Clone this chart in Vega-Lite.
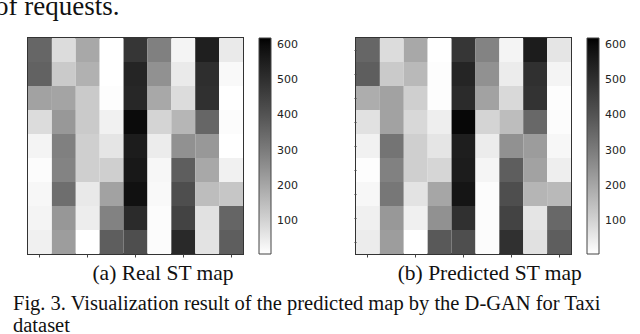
{
  "$schema": "https://vega.github.io/schema/vega-lite/v6.json",
  "background": "white",
  "padding": {"left": -5, "top": -7, "right": 0, "bottom": 0},
  "title": {"text": "of requests.", "orient": "top", "anchor": "start", "frame": "group", "dx": -33, "offset": 16, "font": "Liberation Serif", "fontSize": 27, "fontWeight": "normal", "color": "#111"},
  "datasets": {
    "real": [
      {"r":0,"c":0,"v":355},{"r":0,"c":1,"v":80},{"r":0,"c":2,"v":196},{"r":0,"c":3,"v":5},{"r":0,"c":4,"v":481},{"r":0,"c":5,"v":292},{"r":0,"c":6,"v":29},{"r":0,"c":7,"v":549},{"r":0,"c":8,"v":51},
      {"r":1,"c":0,"v":365},{"r":1,"c":1,"v":119},{"r":1,"c":2,"v":177},{"r":1,"c":3,"v":5},{"r":1,"c":4,"v":532},{"r":1,"c":5,"v":251},{"r":1,"c":6,"v":51},{"r":1,"c":7,"v":505},{"r":1,"c":8,"v":17},
      {"r":2,"c":0,"v":210},{"r":2,"c":1,"v":206},{"r":2,"c":2,"v":119},{"r":2,"c":3,"v":10},{"r":2,"c":4,"v":524},{"r":2,"c":5,"v":196},{"r":2,"c":6,"v":80},{"r":2,"c":7,"v":498},{"r":2,"c":8,"v":5},
      {"r":3,"c":0,"v":80},{"r":3,"c":1,"v":235},{"r":3,"c":2,"v":119},{"r":3,"c":3,"v":34},{"r":3,"c":4,"v":602},{"r":3,"c":5,"v":99},{"r":3,"c":6,"v":164},{"r":3,"c":7,"v":355},{"r":3,"c":8,"v":12},
      {"r":4,"c":0,"v":29},{"r":4,"c":1,"v":292},{"r":4,"c":2,"v":109},{"r":4,"c":3,"v":61},{"r":4,"c":4,"v":558},{"r":4,"c":5,"v":46},{"r":4,"c":6,"v":251},{"r":4,"c":7,"v":235},{"r":4,"c":8,"v":5},
      {"r":5,"c":0,"v":12},{"r":5,"c":1,"v":283},{"r":5,"c":2,"v":109},{"r":5,"c":3,"v":109},{"r":5,"c":4,"v":570},{"r":5,"c":5,"v":22},{"r":5,"c":6,"v":375},{"r":5,"c":7,"v":196},{"r":5,"c":8,"v":34},
      {"r":6,"c":0,"v":22},{"r":6,"c":1,"v":334},{"r":6,"c":2,"v":53},{"r":6,"c":3,"v":210},{"r":6,"c":4,"v":590},{"r":6,"c":5,"v":17},{"r":6,"c":6,"v":416},{"r":6,"c":7,"v":148},{"r":6,"c":8,"v":128},
      {"r":7,"c":0,"v":29},{"r":7,"c":1,"v":237},{"r":7,"c":2,"v":44},{"r":7,"c":3,"v":287},{"r":7,"c":4,"v":512},{"r":7,"c":5,"v":12},{"r":7,"c":6,"v":447},{"r":7,"c":7,"v":70},{"r":7,"c":8,"v":358},
      {"r":8,"c":0,"v":36},{"r":8,"c":1,"v":222},{"r":8,"c":2,"v":5},{"r":8,"c":3,"v":375},{"r":8,"c":4,"v":416},{"r":8,"c":5,"v":12},{"r":8,"c":6,"v":519},{"r":8,"c":7,"v":65},{"r":8,"c":8,"v":375}
    ],
    "pred": [
      {"r":0,"c":0,"v":355},{"r":0,"c":1,"v":80},{"r":0,"c":2,"v":196},{"r":0,"c":3,"v":5},{"r":0,"c":4,"v":481},{"r":0,"c":5,"v":283},{"r":0,"c":6,"v":29},{"r":0,"c":7,"v":558},{"r":0,"c":8,"v":61},
      {"r":1,"c":0,"v":375},{"r":1,"c":1,"v":119},{"r":1,"c":2,"v":157},{"r":1,"c":3,"v":10},{"r":1,"c":4,"v":532},{"r":1,"c":5,"v":251},{"r":1,"c":6,"v":46},{"r":1,"c":7,"v":498},{"r":1,"c":8,"v":29},
      {"r":2,"c":0,"v":186},{"r":2,"c":1,"v":210},{"r":2,"c":2,"v":109},{"r":2,"c":3,"v":10},{"r":2,"c":4,"v":512},{"r":2,"c":5,"v":210},{"r":2,"c":6,"v":87},{"r":2,"c":7,"v":491},{"r":2,"c":8,"v":10},
      {"r":3,"c":0,"v":70},{"r":3,"c":1,"v":210},{"r":3,"c":2,"v":90},{"r":3,"c":3,"v":41},{"r":3,"c":4,"v":609},{"r":3,"c":5,"v":99},{"r":3,"c":6,"v":148},{"r":3,"c":7,"v":350},{"r":3,"c":8,"v":12},
      {"r":4,"c":0,"v":34},{"r":4,"c":1,"v":321},{"r":4,"c":2,"v":109},{"r":4,"c":3,"v":61},{"r":4,"c":4,"v":553},{"r":4,"c":5,"v":46},{"r":4,"c":6,"v":251},{"r":4,"c":7,"v":225},{"r":4,"c":8,"v":22},
      {"r":5,"c":0,"v":10},{"r":5,"c":1,"v":288},{"r":5,"c":2,"v":109},{"r":5,"c":3,"v":94},{"r":5,"c":4,"v":558},{"r":5,"c":5,"v":27},{"r":5,"c":6,"v":375},{"r":5,"c":7,"v":210},{"r":5,"c":8,"v":41},
      {"r":6,"c":0,"v":22},{"r":6,"c":1,"v":314},{"r":6,"c":2,"v":65},{"r":6,"c":3,"v":201},{"r":6,"c":4,"v":580},{"r":6,"c":5,"v":12},{"r":6,"c":6,"v":416},{"r":6,"c":7,"v":167},{"r":6,"c":8,"v":157},
      {"r":7,"c":0,"v":36},{"r":7,"c":1,"v":235},{"r":7,"c":2,"v":36},{"r":7,"c":3,"v":251},{"r":7,"c":4,"v":498},{"r":7,"c":5,"v":12},{"r":7,"c":6,"v":447},{"r":7,"c":7,"v":61},{"r":7,"c":8,"v":350},
      {"r":8,"c":0,"v":46},{"r":8,"c":1,"v":222},{"r":8,"c":2,"v":5},{"r":8,"c":3,"v":389},{"r":8,"c":4,"v":416},{"r":8,"c":5,"v":12},{"r":8,"c":6,"v":498},{"r":8,"c":7,"v":70},{"r":8,"c":8,"v":375}
    ]
  },
  "vconcat": [
    {
      "title": {"text": ["Fig. 3. Visualization result of the predicted map by the D-GAN for Taxi", "dataset"], "orient": "bottom", "anchor": "start", "frame": "group", "dx": -15, "offset": 9, "font": "Liberation Serif", "fontSize": 20.5, "lineHeight": 21.5, "fontWeight": "normal", "color": "#111"},
      "spacing": 113,
      "bounds": "flush",
      "resolve": {"scale": {"color": "independent"}, "legend": {"color": "independent"}},
      "hconcat": [
        {
          "data": {"name": "real"},
          "width": 215,
          "height": 216,
          "title": {"text": "(a) Real ST map", "orient": "bottom", "anchor": "middle", "frame": "bounds", "offset": 5, "font": "Liberation Serif", "fontSize": 21.5, "fontWeight": "normal", "color": "#111"},
          "mark": {"type": "rect"},
          "encoding": {
            "x": {"field": "c", "type": "ordinal", "scale": {"paddingInner": 0, "paddingOuter": 0}, "axis": {"values": [0, 2, 4, 6, 8], "labels": false, "domain": false, "ticks": true, "tickSize": 3, "tickColor": "#444", "title": null}},
            "y": {"field": "r", "type": "ordinal", "scale": {"paddingInner": 0, "paddingOuter": 0}, "axis": null},
            "color": {"field": "v", "type": "quantitative", "scale": {"domain": [5, 621], "range": ["#ffffff", "#000000"]},
              "legend": {"title": null, "values": [100, 200, 300, 400, 500, 600], "gradientLength": 216, "gradientThickness": 12, "gradientStrokeColor": "#444", "gradientStrokeWidth": 1, "labelFont": "DejaVu Sans", "labelFontSize": 11, "labelColor": "#222", "labelOffset": 6, "offset": 16, "padding": 0}}
          }
        },
        {
          "data": {"name": "pred"},
          "width": 215,
          "height": 216,
          "title": {"text": "(b) Predicted ST map", "orient": "bottom", "anchor": "middle", "frame": "bounds", "offset": 5, "font": "Liberation Serif", "fontSize": 21.5, "fontWeight": "normal", "color": "#111"},
          "mark": {"type": "rect"},
          "encoding": {
            "x": {"field": "c", "type": "ordinal", "scale": {"paddingInner": 0, "paddingOuter": 0}, "axis": {"values": [0, 2, 4, 6, 8], "labels": false, "domain": false, "ticks": true, "tickSize": 3, "tickColor": "#444", "title": null}},
            "y": {"field": "r", "type": "ordinal", "scale": {"paddingInner": 0, "paddingOuter": 0}, "axis": {"labels": false, "domain": false, "ticks": true, "tickSize": 2, "tickColor": "#444", "title": null}},
            "color": {"field": "v", "type": "quantitative", "scale": {"domain": [5, 621], "range": ["#ffffff", "#000000"]},
              "legend": {"title": null, "values": [100, 200, 300, 400, 500, 600], "gradientLength": 216, "gradientThickness": 12, "gradientStrokeColor": "#444", "gradientStrokeWidth": 1, "labelFont": "DejaVu Sans", "labelFontSize": 11, "labelColor": "#222", "labelOffset": 6, "offset": 16, "padding": 0}}
          }
        }
      ]
    }
  ],
  "config": {
    "view": {"stroke": "#333", "strokeWidth": 2},
    "axis": {"grid": false}
  }
}
